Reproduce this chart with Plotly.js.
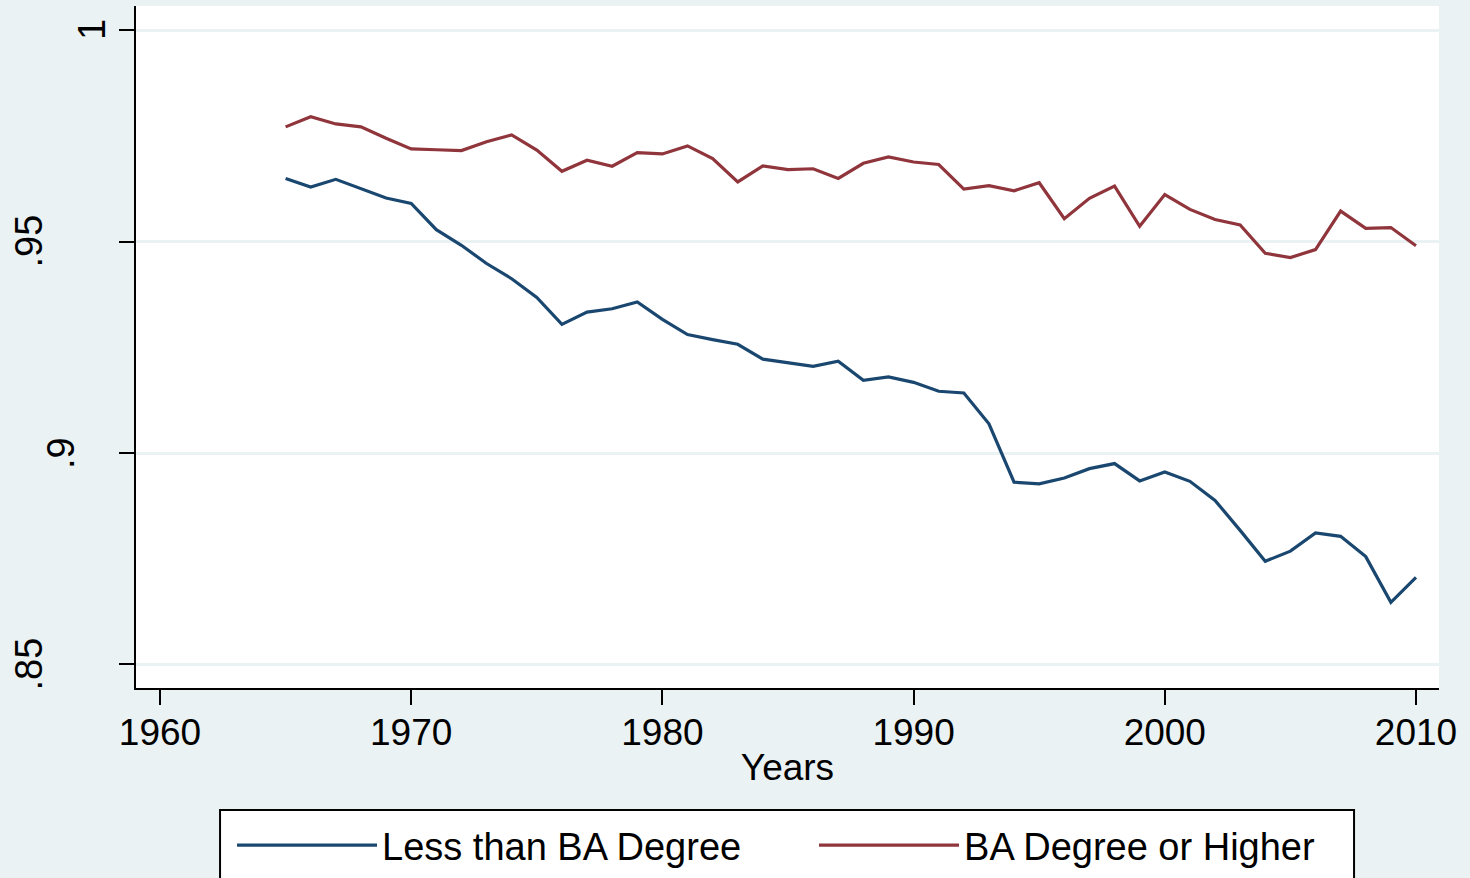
<!DOCTYPE html>
<html>
<head>
<meta charset="utf-8">
<script src="https://cdn.plot.ly/plotly-3.0.1.min.js"></script>
<style>
  html, body { margin: 0; padding: 0; background: #EAF2F3; }
  #chart { width: 1470px; height: 878px; }
</style>
</head>
<body>
<div id="chart"></div>
<script>
const years = [1965,1966,1967,1968,1969,1970,1971,1972,1973,1974,1975,1976,1977,1978,1979,
  1980,1981,1982,1983,1984,1985,1986,1987,1988,1989,1990,1991,1992,1993,1994,1995,
  1996,1997,1998,1999,2000,2001,2002,2003,2004,2005,2006,2007,2008,2009,2010];

const lessThanBA = [0.9649,0.9629,0.9647,0.9624,0.9603,0.9590,0.9528,0.9491,0.9448,0.9412,0.9368,
  0.9304,0.9333,0.9341,0.9357,0.9316,0.9280,0.9268,0.9257,0.9222,0.9214,0.9205,0.9217,0.9172,
  0.9180,0.9167,0.9146,0.9142,0.9069,0.8931,0.8927,0.8941,0.8963,0.8975,0.8934,0.8955,0.8933,
  0.8888,0.8817,0.8744,0.8768,0.8811,0.8803,0.8755,0.8647,0.8706];

const baOrHigher = [0.9771,0.9795,0.9778,0.9771,0.9744,0.9719,0.9717,0.9715,0.9736,0.9752,0.9716,
  0.9666,0.9692,0.9678,0.9710,0.9707,0.9726,0.9696,0.9641,0.9679,0.9670,0.9672,0.9649,0.9685,
  0.9700,0.9688,0.9682,0.9624,0.9632,0.9620,0.9639,0.9554,0.9602,0.9631,0.9536,0.9611,0.9576,
  0.9552,0.9539,0.9472,0.9462,0.9481,0.9572,0.9531,0.9533,0.9490];

const seriesNames = ["Less than BA Degree", "BA Degree or Higher"];
const xTickVals = [1960,1970,1980,1990,2000,2010];
const xTickText = ["1960","1970","1980","1990","2000","2010"];
const yTickVals = [0.85,0.9,0.95,1];
const yTickText = [".85",".9",".95","1"];
const xTitle = "Years";

const FONT = "'Liberation Sans', Arial, Helvetica, sans-serif";
const BG = "#EAF2F3";

const traces = [
  { x: years, y: lessThanBA, name: seriesNames[0], type: "scatter", mode: "lines",
    line: { color: "#1A476F", width: 3.2 } },
  { x: years, y: baOrHigher, name: seriesNames[1], type: "scatter", mode: "lines",
    line: { color: "#90353B", width: 3.2 } }
];

// y tick labels as rotated annotations (Stata-style staggered placement)
const yLabelShift = { ".85": -107, ".9": -75, ".95": -107, "1": -44 };
const annotations = yTickVals.map((v, i) => ({
  xref: "paper", yref: "y", x: 0, y: v,
  text: yTickText[i], showarrow: false, textangle: -90,
  xanchor: "center", yanchor: "middle", xshift: yLabelShift[yTickText[i]],
  font: { family: FONT, size: 38, color: "#000" }
}));

const layout = {
  width: 1470, height: 878,
  paper_bgcolor: BG, plot_bgcolor: "#FFFFFF",
  margin: { l: 136, r: 31, t: 6, b: 190, pad: 0, autoexpand: false },
  showlegend: true,
  font: { family: FONT, color: "#000" },
  xaxis: {
    range: [1959.045, 2010.916], tickmode: "array", tickvals: xTickVals, ticktext: xTickText,
    showgrid: false, zeroline: false, showline: true, linecolor: "#000", linewidth: 2,
    ticks: "outside", ticklen: 15, tickwidth: 2, tickcolor: "#000",
    ticklabelstandoff: -4,
    tickfont: { family: FONT, size: 37, color: "#000" },
    title: { text: xTitle, font: { family: FONT, size: 37, color: "#000" }, standoff: 2 }
  },
  yaxis: {
    range: [0.84444, 1.00568], tickmode: "array", tickvals: yTickVals, ticktext: yTickText,
    showticklabels: false,
    showgrid: true, gridcolor: BG, gridwidth: 3,
    zeroline: false, showline: true, linecolor: "#000", linewidth: 2,
    ticks: "outside", ticklen: 15, tickwidth: 2, tickcolor: "#000"
  },
  legend: {
    orientation: "h", x: 0.0737, xanchor: "left", y: -0.1847, yanchor: "top",
    bgcolor: "rgba(0,0,0,0)", borderwidth: 0,
    font: { family: FONT, size: 38, color: "#000" },
    itemwidth: 140, entrywidth: 427, entrywidthmode: "pixels",
    traceorder: "normal"
  },
  shapes: [
    { type: "rect", xref: "paper", yref: "paper", x0: 0.0645, x1: 0.9348, y0: -0.30, y1: -0.1789,
      fillcolor: "#FFFFFF", line: { color: "#000", width: 2 }, layer: "below" }
  ],
  annotations: annotations
};

Plotly.newPlot("chart", traces, layout, { displayModeBar: false, staticPlot: true });
</script>
</body>
</html>
